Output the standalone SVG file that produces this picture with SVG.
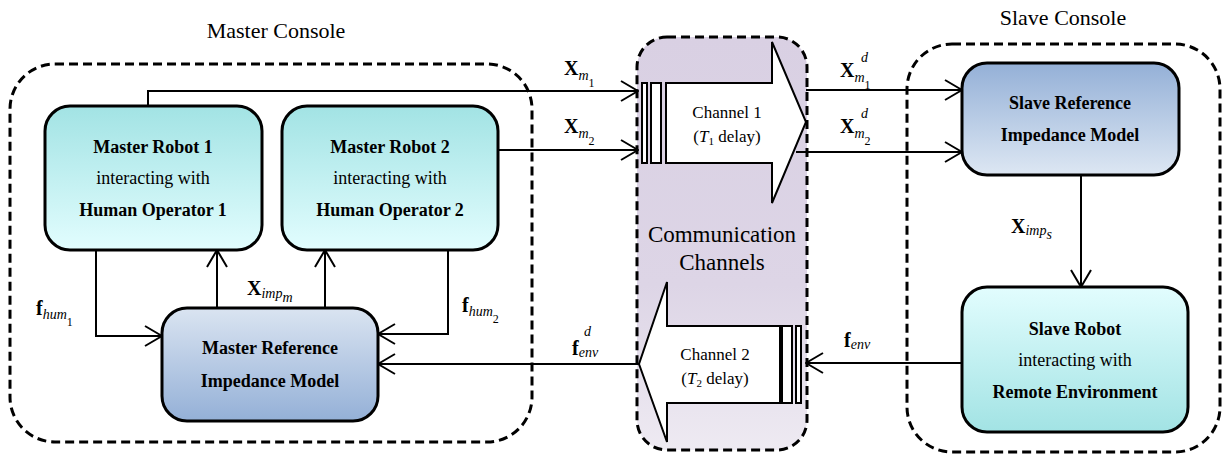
<svg xmlns="http://www.w3.org/2000/svg" width="1223" height="454" viewBox="0 0 1223 454" font-family="'Liberation Serif', 'Times New Roman', Times, 'DejaVu Serif', serif">
  <style>
    .console { fill: none; stroke: #000; stroke-width: 3; stroke-dasharray: 9 5; }
    .box { stroke: #000; stroke-width: 3; }
    .wire { fill: none; stroke: #000; stroke-width: 2; }
    .chan { fill: #fff; stroke: #000; stroke-width: 2; }
    text { font-family: 'Liberation Serif', 'Times New Roman', Times, 'DejaVu Serif', serif; fill: #000; }
    .title { font-size: 22px; text-anchor: middle; }
    .big { font-size: 23px; text-anchor: middle; }
    .b { font-size: 18px; font-weight: bold; text-anchor: middle; }
    .r { font-size: 18px; text-anchor: middle; }
    .ch { font-size: 17px; text-anchor: middle; }
    .sym { font-size: 20px; font-weight: bold; }
    .it { font-style: italic; font-weight: normal; font-size: 14px; }
    .num { font-weight: normal; font-size: 12px; }
  </style>
  <defs>
    <linearGradient id="cyanDown" x1="0" y1="0" x2="0" y2="1">
      <stop offset="0" stop-color="#a2e3e4"/>
      <stop offset="1" stop-color="#e2fdfe"/>
    </linearGradient>
    <linearGradient id="cyanUp" x1="0" y1="0" x2="0" y2="1">
      <stop offset="0" stop-color="#e2fdfe"/>
      <stop offset="1" stop-color="#a2e3e4"/>
    </linearGradient>
    <linearGradient id="blueDown" x1="0" y1="0" x2="0" y2="1">
      <stop offset="0" stop-color="#dae4f1"/>
      <stop offset="1" stop-color="#94b0d7"/>
    </linearGradient>
    <linearGradient id="blueUp" x1="0" y1="0" x2="0" y2="1">
      <stop offset="0" stop-color="#94b0d7"/>
      <stop offset="1" stop-color="#dde7f3"/>
    </linearGradient>
    <linearGradient id="lav" x1="0" y1="0" x2="0" y2="1">
      <stop offset="0" stop-color="#d9d0e3"/>
      <stop offset="0.6" stop-color="#ddd5e6"/>
      <stop offset="1" stop-color="#eeeaf2"/>
    </linearGradient>
    <marker id="arr" viewBox="0 0 20 24" refX="19" refY="12" markerWidth="20" markerHeight="24" markerUnits="userSpaceOnUse" orient="auto">
      <path d="M2,2 L19,12 L2,22" fill="none" stroke="#000" stroke-width="2"/>
    </marker>
  </defs>

  <!-- console frames -->
  <g id="master-console">
    <rect class="console" x="10" y="64" width="522" height="378" rx="45"/>
    <text class="title" x="276" y="38">Master Console</text>
  </g>
  <g id="communication-channels">
    <rect x="637" y="37" width="170" height="413" rx="30" fill="url(#lav)" stroke="#000" stroke-width="3" stroke-dasharray="9 5"/>
    <text class="big" x="722" y="242">Communication</text>
    <text class="big" x="722" y="270">Channels</text>
  </g>
  <g id="slave-console">
    <rect class="console" x="907" y="44" width="313" height="408" rx="45"/>
    <text class="title" x="1063" y="25">Slave Console</text>
  </g>

  <!-- channel 1: master to slave -->
  <g id="channel-1">
    <rect class="chan" x="642" y="83" width="5" height="80"/>
    <rect class="chan" x="651" y="83" width="10" height="80"/>
    <polygon class="chan" points="666,83 772,83 772,42 806,122 772,203 772,163 666,163"/>
    <text class="ch" x="727" y="118">Channel 1</text>
    <text class="ch" x="727" y="142">(<tspan font-style="italic">T</tspan><tspan font-size="11" dy="3">1</tspan><tspan dy="-3"> delay)</tspan></text>
  </g>

  <!-- channel 2: slave to master -->
  <g id="channel-2">
    <rect class="chan" x="782" y="326" width="10" height="77"/>
    <rect class="chan" x="796" y="326" width="5" height="77"/>
    <polygon class="chan" points="780,326 667,326 667,282 639,364 667,442 667,403 780,403"/>
    <text class="ch" x="715" y="360">Channel 2</text>
    <text class="ch" x="715" y="384">(<tspan font-style="italic">T</tspan><tspan font-size="11" dy="3">2</tspan><tspan dy="-3"> delay)</tspan></text>
  </g>

  <!-- nodes -->
  <g id="master-robot-1">
    <rect class="box" x="45" y="106" width="217" height="144" rx="25" fill="url(#cyanDown)"/>
    <text class="b" x="153" y="153">Master Robot 1</text>
    <text class="r" x="153" y="184">interacting with</text>
    <text class="b" x="153" y="216">Human Operator 1</text>
  </g>
  <g id="master-robot-2">
    <rect class="box" x="282" y="106" width="216" height="144" rx="25" fill="url(#cyanDown)"/>
    <text class="b" x="390" y="153">Master Robot 2</text>
    <text class="r" x="390" y="184">interacting with</text>
    <text class="b" x="390" y="216">Human Operator 2</text>
  </g>
  <g id="master-impedance">
    <rect class="box" x="162" y="308" width="216" height="113" rx="25" fill="url(#blueDown)"/>
    <text class="b" x="270" y="354">Master Reference</text>
    <text class="b" x="270" y="387">Impedance Model</text>
  </g>
  <g id="slave-impedance">
    <rect class="box" x="962" y="63" width="217" height="112" rx="25" fill="url(#blueUp)"/>
    <text class="b" x="1070" y="109">Slave Reference</text>
    <text class="b" x="1070" y="141">Impedance Model</text>
  </g>
  <g id="slave-robot">
    <rect class="box" x="962" y="287" width="226" height="145" rx="25" fill="url(#cyanUp)"/>
    <text class="b" x="1075" y="335">Slave Robot</text>
    <text class="r" x="1075" y="366">interacting with</text>
    <text class="b" x="1075" y="398">Remote Environment</text>
  </g>

  <!-- connectors -->
  <g id="connectors">
    <path class="wire" d="M148,106 V91 H638" marker-end="url(#arr)"/>
    <path class="wire" d="M498,150 H638" marker-end="url(#arr)"/>
    <path class="wire" d="M806,90 H962" marker-end="url(#arr)"/>
    <path class="wire" d="M796,152 H962" marker-end="url(#arr)"/>
    <path class="wire" d="M96,250 V336 H162" marker-end="url(#arr)"/>
    <path class="wire" d="M217,308 V250" marker-end="url(#arr)"/>
    <path class="wire" d="M325,308 V250" marker-end="url(#arr)"/>
    <path class="wire" d="M448,250 V334 H378" marker-end="url(#arr)"/>
    <path class="wire" d="M639,364 H378" marker-end="url(#arr)"/>
    <path class="wire" d="M1081,175 V287" marker-end="url(#arr)"/>
    <path class="wire" d="M962,363 H806" marker-end="url(#arr)"/>
  </g>

  <!-- signal labels -->
  <g id="labels">
    <text class="sym" x="564" y="75">X<tspan class="it" dy="5">m</tspan><tspan class="num" dy="7">1</tspan></text>
    <text class="sym" x="564" y="133">X<tspan class="it" dy="5">m</tspan><tspan class="num" dy="7">2</tspan></text>
    <text class="sym" x="840" y="77">X<tspan class="it" dy="5">m</tspan><tspan class="num" dy="7">1</tspan><tspan class="it" x="861" y="62">d</tspan></text>
    <text class="sym" x="840" y="133">X<tspan class="it" dy="5">m</tspan><tspan class="num" dy="7">2</tspan><tspan class="it" x="861" y="118">d</tspan></text>
    <text class="sym" x="36" y="315">f<tspan class="it" dy="4">hum</tspan><tspan class="num" dy="7">1</tspan></text>
    <text class="sym" x="247" y="295">X<tspan class="it" dy="3">imp</tspan><tspan class="it" font-size="11" dy="4">m</tspan></text>
    <text class="sym" x="462" y="312">f<tspan class="it" dy="4">hum</tspan><tspan class="num" dy="7">2</tspan></text>
    <text class="sym" x="572" y="355">f<tspan class="it" dy="2">env</tspan><tspan class="it" x="584" y="336">d</tspan></text>
    <text class="sym" x="1011" y="233">X<tspan class="it" dy="2">imp</tspan><tspan class="it" font-size="11" dy="4">s</tspan></text>
    <text class="sym" x="844" y="347">f<tspan class="it" dy="2">env</tspan></text>
  </g>
</svg>
